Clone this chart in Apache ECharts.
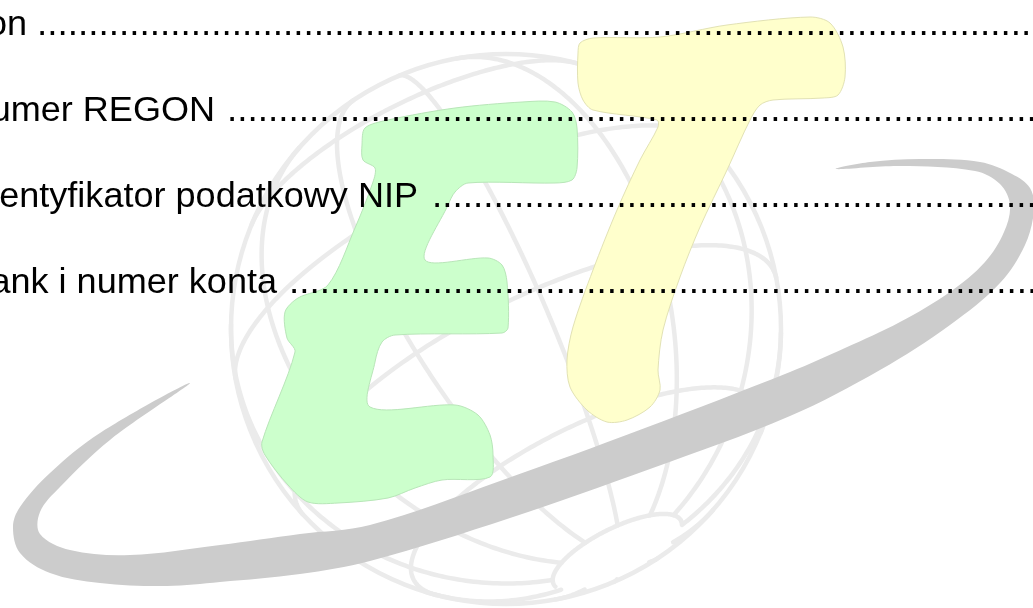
<!DOCTYPE html>
<html><head><meta charset="utf-8">
<script src="https://cdn.jsdelivr.net/npm/echarts@6/dist/echarts.min.js"></script>
<style>html,body{margin:0;padding:0;background:#fff;overflow:hidden}#c{width:1033px;height:608px}</style>
</head><body><div id="c"></div>
<script>
// ---- text content ----
const labels = ['Telefon', 'Numer REGON', 'Identyfikator podatkowy NIP', 'Bank i numer konta'];
const leaderChar = '.';
const leaderCount = [110, 90, 70, 85];

// ---- layout (kept separate from content) ----
const baselines = [35.5, 121.5, 207.5, 293.5];
const wordEnds = [27, 215, 418, 277];
const dotStarts = [37, 227, 432, 289];
const FS = 34.5, SX = 1.045, FS_DOTS = 36.9;

const chart = echarts.init(document.getElementById('c'), null, {renderer: 'canvas'});
const G = [];

// ---- globe wireframe (decorative watermark) ----
const GC = [506, 329], GR = 275;
function norm(v){const l=Math.hypot(v[0],v[1],v[2]);return v.map(a=>a/l);}
const P = norm([0.419, 0.841, 0.342]);
const U = norm([P[1], -P[0], 0]);
const V = [P[1]*U[2]-P[2]*U[1], P[2]*U[0]-P[0]*U[2], P[0]*U[1]-P[1]*U[0]];
function sp(c, f){
  const cr=c*Math.PI/180, fr=f*Math.PI/180, a=Math.cos(cr), b=Math.sin(cr);
  const v=[0,1,2].map(i=>a*P[i]+b*(Math.cos(fr)*U[i]+Math.sin(fr)*V[i]));
  return [GC[0]+GR*v[0], GC[1]+GR*v[1], v[2]];
}
function addCurve(fn, t0, t1, n, zMin){
  let cur=[];
  const flush=()=>{ if(cur.length>1) G.push({type:'polyline', z:1, silent:true,
      shape:{points:cur}, style:{stroke:'#ebebeb', lineWidth:4.5, fill:null, lineCap:'round', lineJoin:'round'}}); cur=[]; };
  for(let i=0;i<=n;i++){ const t=t0+(t1-t0)*i/n; const p=fn(t);
    if(p[2]>=zMin) cur.push([p[0],p[1]]); else flush(); }
  flush();
}
const meridianPhase = -80, meridianStep = 30;
for(let k=0;k<12;k++){ const f=meridianPhase+meridianStep*k; addCurve(c=>sp(c,f), 15, 180, 200, -0.005); }
addCurve(f=>sp(15,f), 0, 360, 360, 0.3);
[45, 75, 105, 135, 165].forEach(c=>addCurve(f=>sp(c,f), 0, 360, 360, -0.005));
G.push({type:'circle', z:1, silent:true, shape:{cx:GC[0], cy:GC[1], r:GR}, style:{stroke:'#ebebeb', lineWidth:4.5, fill:null}});

// ---- swoosh ----
const swoosh = [[190,383],[100,433],[50,473],[20,507],[13,527],[20,553],[50,573],[100,583],[167,586],[220,582],[300,574],[370,561],[510,518],[650,469],[790,416],[880,370],[950,325],[1000,283],[1025,245],[1034,210],[1030,188],[1012,174],[980,162],[920,159],[870,162],[836,169],
  [900,166],[975,171],[1000,184],[1010,205],[1004,232],[985,262],[950,292],[900,322],[845,348],[790,372],[645,428],[500,481],[370,525],[300,534],[220,545],[130,555],[70,550],[40,534],[40,512],[60,487],[110,440]];
G.push({type:'polygon', z:3, silent:true, shape:{points:swoosh, smooth:0.35}, style:{fill:'#cccccc', stroke:null}});

// ---- letter E ----
const E = [[365,128],[388,120],[455,108],[522,102],[555,102],[572,112],[577,128],[577,168],[572,180],[555,183],[468,183],[455,192],[448,205],[425,260],[488,258],[502,265],[507,282],[508,328],[502,333],[395,335],[382,342],[375,362],[370,407],[455,405],[478,415],[490,435],[493,455],[490,477],[442,480],[415,488],[388,498],[338,503],[308,502],[288,485],[265,455],[262,442],[295,352],[287,338],[285,312],[298,298],[328,285],[355,228],[373,182],[375,168],[363,160],[362,145]];
G.push({type:'polygon', z:4, silent:true, shape:{points:E, smooth:0.3}, style:{fill:'#ccffcc', stroke:'#b8e6b8', lineWidth:1}});

// ---- letter T ----
const T = [[580,43],[593,38],[660,37],[727,25],[810,17],[830,23],[843,47],[845,77],[838,95],[823,98],[773,100],[760,105],[750,120],[727,170],[700,227],[680,277],[663,330],[658,370],[660,390],[650,407],[627,420],[607,422],[587,410],[570,387],[567,360],[573,327],[593,270],[617,210],[640,160],[658,127],[657,120],[593,110],[583,100],[578,83],[578,53]];
G.push({type:'polygon', z:4, silent:true, shape:{points:T, smooth:0.3}, style:{fill:'#ffffcc', stroke:'#e2e2b4', lineWidth:1}});

// ---- text lines ----
labels.forEach((s,i)=>{
  G.push({type:'text', z:10, x:wordEnds[i], y:baselines[i] + 0.206*FS, scaleX:SX, style:{text:s, fill:'#000',
    font: FS+'px "Liberation Sans", Arial, sans-serif', textAlign:'right', align:'right', textVerticalAlign:'bottom', verticalAlign:'bottom'}});
  G.push({type:'text', z:10, x:dotStarts[i], y:baselines[i] + 0.206*FS_DOTS, style:{text:leaderChar.repeat(leaderCount[i]), fill:'#000',
    font: FS_DOTS+'px "Liberation Sans", Arial, sans-serif', textAlign:'left', align:'left', textVerticalAlign:'bottom', verticalAlign:'bottom'}});
});

chart.setOption({backgroundColor:'#ffffff', animation:false, graphic:{elements:G}});
</script></body></html>
